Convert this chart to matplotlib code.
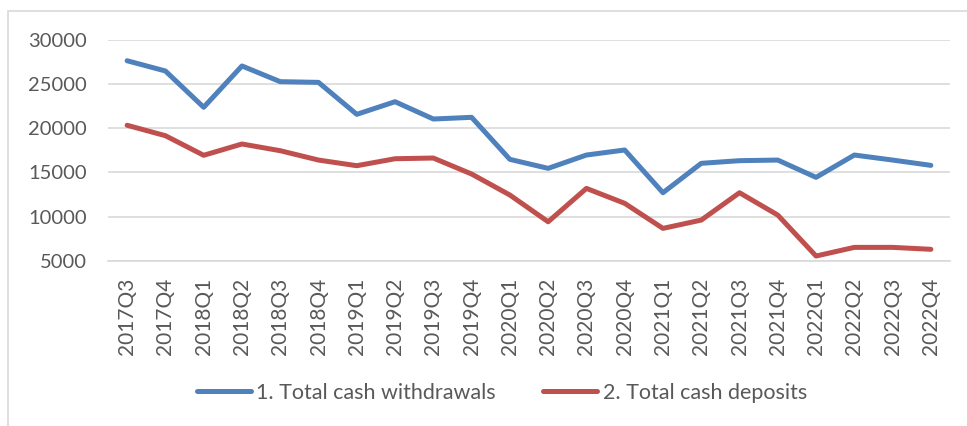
import matplotlib.pyplot as plt
from matplotlib.patches import Rectangle

plt.rcParams['font.family'] = ['Lato', 'DejaVu Sans']

# quarters on the x axis
quarters = ["2017Q3", "2017Q4", "2018Q1", "2018Q2", "2018Q3", "2018Q4",
            "2019Q1", "2019Q2", "2019Q3", "2019Q4", "2020Q1", "2020Q2",
            "2020Q3", "2020Q4", "2021Q1", "2021Q2", "2021Q3", "2021Q4",
            "2022Q1", "2022Q2", "2022Q3", "2022Q4"]

# values
withdrawals = [27650, 26490, 22380, 27060, 25280, 25200, 21580, 23010,
               21050, 21240, 16480, 15460, 16970, 17540, 12700, 16030,
               16330, 16400, 14440, 16970, 16400, 15800]
deposits = [20340, 19160, 16940, 18220, 17460, 16400, 15760, 16550,
            16630, 14820, 12440, 9410, 13190, 11500, 8660, 9600,
            12700, 10170, 5530, 6510, 6510, 6290]

yticks = [5000, 10000, 15000, 20000, 25000, 30000]

text_col = "#595959"
grid_col = "#D9D9D9"

fig = plt.figure(figsize=(9.67, 4.26), dpi=100)
ax = fig.add_axes([108 / 967, 1 - 260.7 / 426, 842 / 967, 220.7 / 426])

x = range(len(quarters))
ax.plot(x, withdrawals, color="#4F81BD", lw=3.6, solid_capstyle="round",
        solid_joinstyle="round", label="1. Total cash withdrawals")
ax.plot(x, deposits, color="#C0504D", lw=3.6, solid_capstyle="round",
        solid_joinstyle="round", label="2. Total cash deposits")

ax.set_xlim(-0.5, len(quarters) - 0.5)
ax.set_ylim(5000, 30000)
ax.set_yticks(yticks)
ax.set_xticks(list(x))
ax.set_xticklabels(quarters, rotation=90)

ax.grid(axis="y", color=grid_col, lw=1.2)
ax.set_axisbelow(True)
for s in ["top", "right", "left"]:
    ax.spines[s].set_visible(False)
ax.spines["bottom"].set_color(grid_col)
ax.spines["bottom"].set_linewidth(1.2)

ax.tick_params(axis="y", length=0, pad=15, labelsize=14.5, labelcolor=text_col)
ax.tick_params(axis="x", length=0, pad=12, labelsize=15, labelcolor=text_col)

# outer chart border (cut off at right and bottom)
fig.patches.append(Rectangle((8 / 967, -0.1), 1.2, 1 - 11 / 426 + 0.1,
                             transform=fig.transFigure, fill=False,
                             edgecolor=grid_col, lw=1.2))

fig.legend(loc="center", bbox_to_anchor=(502 / 967, 1 - 393 / 426), ncol=2,
           frameon=False, fontsize=15.5, labelcolor=text_col,
           handlelength=2.5, handletextpad=0.25, columnspacing=2.2)

fig.savefig("out.png", dpi=100)
